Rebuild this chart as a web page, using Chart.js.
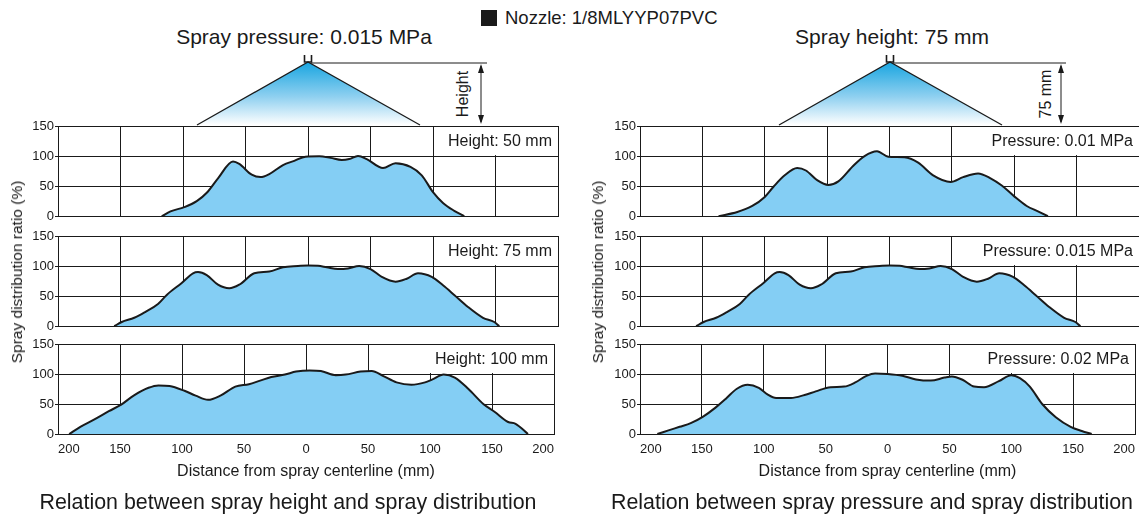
<!DOCTYPE html>
<html lang="en">
<head>
<meta charset="UTF-8">
<title>Spray distribution</title>
<style>
  html, body { margin: 0; padding: 0; background: #fff; overflow: hidden; }
  body { width: 1139px; height: 514px; position: relative; font-family: "Liberation Sans", Arial, sans-serif; color: #1a1a1a; }
  .txt { position: absolute; white-space: nowrap; transform: translate(-50%, -50%); }
  .cv { position: absolute; }
  #cones { position: absolute; left: 0; top: 0; }
</style>
</head>
<body>
<svg id="cones" width="1139" height="130">
  <defs>
    <linearGradient id="spray" x1="0" y1="0" x2="0" y2="1">
      <stop offset="0" stop-color="#18a5e0"/>
      <stop offset="0.55" stop-color="#8fd0f0"/>
      <stop offset="1" stop-color="#ffffff"/>
    </linearGradient>
  </defs>
  <!-- left: height diagram -->
  <polygon points="308,62 197,125 420,125" fill="url(#spray)"/>
  <polyline points="197,125 308,62 420,125" fill="none" stroke="#1a1a1a" stroke-width="1.3"/>
  <path d="M304.5,55 v7 h7 v-7" fill="none" stroke="#1a1a1a" stroke-width="1.6"/>
  <line x1="311" y1="63" x2="487" y2="63" stroke="#1a1a1a" stroke-width="1"/>
  <line x1="481" y1="66" x2="481" y2="122" stroke="#1a1a1a" stroke-width="1"/>
  <polygon points="481,64 478,73 484,73" fill="#1a1a1a"/>
  <polygon points="481,124 478,115 484,115" fill="#1a1a1a"/>
  <text x="0" y="0" transform="translate(468,94) rotate(-90)" text-anchor="middle" font-size="16" fill="#1a1a1a" font-family="Liberation Sans, Arial, sans-serif">Height</text>
  <!-- right: 75 mm diagram -->
  <polygon points="890,62 779,125 1002,125" fill="url(#spray)"/>
  <polyline points="779,125 890,62 1002,125" fill="none" stroke="#1a1a1a" stroke-width="1.3"/>
  <path d="M886.5,55 v7 h7 v-7" fill="none" stroke="#1a1a1a" stroke-width="1.6"/>
  <line x1="893" y1="63" x2="1066" y2="63" stroke="#1a1a1a" stroke-width="1"/>
  <line x1="1061" y1="66" x2="1061" y2="122" stroke="#1a1a1a" stroke-width="1"/>
  <polygon points="1061,64 1058,73 1064,73" fill="#1a1a1a"/>
  <polygon points="1061,124 1058,115 1064,115" fill="#1a1a1a"/>
  <text x="0" y="0" transform="translate(1051,94) rotate(-90)" text-anchor="middle" font-size="16" fill="#1a1a1a" font-family="Liberation Sans, Arial, sans-serif">75 mm</text>
</svg>

<div style="position:absolute;left:481px;top:10px;width:16px;height:16px;background:#1a1a1a"></div>
<div class="txt" style="left:505px;top:18px;transform:translate(0,-50%);font-size:18.5px">Nozzle: 1/8MLYYP07PVC</div>
<div class="txt" style="left:304px;top:37px;font-size:21px">Spray pressure: 0.015 MPa</div>
<div class="txt" style="left:892px;top:37px;font-size:21px">Spray height: 75 mm</div>

<canvas class="cv" id="l1" width="562" height="111" style="left:0;top:114px"></canvas>
<canvas class="cv" id="l2" width="562" height="111" style="left:0;top:224px"></canvas>
<canvas class="cv" id="l3" width="562" height="152" style="left:0;top:332px"></canvas>
<canvas class="cv" id="r1" width="561" height="111" style="left:582px;top:114px"></canvas>
<canvas class="cv" id="r2" width="561" height="111" style="left:582px;top:224px"></canvas>
<canvas class="cv" id="r3" width="561" height="152" style="left:582px;top:332px"></canvas>

<div class="txt" style="left:17px;top:272px;transform:translate(-50%,-50%) rotate(-90deg);font-size:15.5px">Spray distribution ratio (%)</div>
<div class="txt" style="left:598px;top:272px;transform:translate(-50%,-50%) rotate(-90deg);font-size:15.5px">Spray distribution ratio (%)</div>

<div class="txt" style="left:288px;top:502px;font-size:21.4px">Relation between spray height and spray distribution</div>
<div class="txt" style="left:872px;top:502px;font-size:21.4px">Relation between spray pressure and spray distribution</div>

<script src="https://cdn.jsdelivr.net/npm/chart.js"></script>
<script>
// distance from centerline (mm) and distribution ratio (%)
const h50X = [-117, -110, -99, -89, -81, -72, -60, -55, -45, -38, -31, -20, -11, -2, 9, 18, 27, 33, 40, 47, 60, 70, 82, 91, 100, 108, 117, 125];
const h50Y = [0, 8, 15, 25, 39, 63, 91, 87, 69, 65, 70, 85, 92, 99, 99.5, 97, 93.5, 95, 100, 95, 80, 88, 82, 68, 40, 22, 9, 0];

const h75X = [-155, -149, -139, -130, -120, -113, -101, -92, -88, -81, -72, -63, -55, -43, -31, -20, -8, 0, 8, 15, 24, 32, 41, 50, 59, 70, 79, 88, 99, 108, 117, 128, 140, 149, 153];
const h75Y = [0, 7, 14, 24, 37, 52, 72, 88, 90, 85, 69, 63, 69, 88, 91, 98, 100, 101, 100.5, 98, 95, 96, 100, 95, 82, 74, 79, 88, 82, 68, 52, 32, 14, 7, 0];

const h100X = [-191, -182, -171, -159, -149, -139, -127, -119, -110, -98, -89, -79, -69, -57, -46, -37, -28, -17, -8, 3, 12, 24, 32, 44, 53, 62, 73, 85, 96, 102, 111, 120, 131, 143, 152, 163, 169, 179];
const h100Y = [0, 12, 24, 38, 49, 64, 77, 81, 80, 72, 64, 57, 64, 79, 83, 89, 95, 99, 104, 106, 105, 98, 99, 104, 105, 97, 86, 82, 86, 91, 99, 94, 75, 50, 37, 20, 17, 0];

const p01X = [-137, -122, -110, -100, -93, -84, -74, -67, -58, -49, -41, -29, -20, -10, -1, 12, 23, 35, 49, 59, 71, 81, 90, 100, 110, 119, 127];
const p01Y = [0, 7, 17, 32, 49, 68, 80, 76, 60, 52, 58, 84, 100, 108, 99, 98, 89, 68, 57, 65, 71, 63, 51, 33, 17, 8, 0];

// 0.015 MPa at 75 mm is the same measurement as the middle left chart
const p015X = h75X;
const p015Y = h75Y;

const p02X = [-186, -177, -168, -159, -149, -139, -130, -122, -113, -104, -97, -90, -78, -67, -58, -46, -35, -26, -17, -10, 0, 12, 23, 35, 46, 52, 61, 70, 78, 90, 100, 107, 115, 125, 136, 148, 157, 165];
const p02Y = [0, 6, 12, 18, 29, 44, 60, 75, 82, 77, 66, 60, 60, 65, 71, 78, 79, 86, 97, 101, 100, 97, 91, 89, 94, 96, 90, 79, 78, 88, 98, 93, 79, 50, 28, 12, 5, 0];

const xTicks = [-200, -150, -100, -50, 0, 50, 100, 150, 200];
const yTicks = [0, 50, 100, 150];

Chart.defaults.font.family = '"Liberation Sans", Arial, sans-serif';
Chart.defaults.font.size = 13;
Chart.defaults.color = '#1a1a1a';

const lineColor = '#1a1a1a';

// white box with the condition text in the top right cell
const cornerLabel = {
    id: 'cornerLabel',
    beforeDatasetsDraw(chart, args, opts) {
        const ctx = chart.ctx;
        const a = chart.chartArea;
        const y100 = chart.scales.y.getPixelForValue(100);
        ctx.save();
        ctx.font = '16px "Liberation Sans", Arial, sans-serif';
        const w = ctx.measureText(opts.text).width;
        ctx.fillStyle = '#fff';
        ctx.fillRect(a.right - w - 14, a.top + 1, w + 13, y100 - a.top - 2);
        ctx.fillStyle = lineColor;
        ctx.textAlign = 'right';
        ctx.textBaseline = 'middle';
        ctx.fillText(opts.text, a.right - 6, (a.top + y100) / 2 + 1);
        ctx.restore();
    }
};

function makeChart(id, xs, ys, label, bottom) {
    const points = xs.map((x, i) => ({ x: x, y: ys[i] }));
    new Chart(document.getElementById(id), {
        type: 'line',
        data: {
            datasets: [{
                data: points,
                borderColor: lineColor,
                borderWidth: 2,
                backgroundColor: '#84cef4',
                fill: 'origin',
                pointRadius: 0,
                cubicInterpolationMode: 'monotone'
            }]
        },
        options: {
            responsive: false,
            animation: false,
            events: [],
            layout: { padding: { top: 12, right: 4, bottom: bottom ? 0 : 4, left: 0 } },
            plugins: {
                legend: { display: false },
                tooltip: { enabled: false },
                cornerLabel: { text: label }
            },
            scales: {
                x: {
                    type: 'linear',
                    min: -200,
                    max: 200,
                    afterBuildTicks: s => { s.ticks = xTicks.map(v => ({ value: v })); },
                    afterFit: s => { s.height = bottom ? 50 : 0; },
                    grid: { color: lineColor, lineWidth: 1, drawTicks: false },
                    border: { color: lineColor, width: 1 },
                    ticks: {
                        display: bottom,
                        padding: 8,
                        align: 'inner',
                        maxRotation: 0,
                        callback: v => Math.abs(v)
                    },
                    title: {
                        display: bottom,
                        text: 'Distance from spray centerline (mm)',
                        font: { size: 16 },
                        padding: { top: 0, bottom: 3 }
                    }
                },
                y: {
                    min: 0,
                    max: 150,
                    afterBuildTicks: s => { s.ticks = yTicks.map(v => ({ value: v })); },
                    afterFit: s => { s.width = 58; },
                    grid: { color: lineColor, lineWidth: 1, tickLength: 3 },
                    border: { color: lineColor, width: 1 },
                    ticks: { padding: 1 }
                }
            }
        },
        plugins: [cornerLabel]
    });
}

makeChart('l1', h50X, h50Y, 'Height: 50 mm', false);
makeChart('l2', h75X, h75Y, 'Height: 75 mm', false);
makeChart('l3', h100X, h100Y, 'Height: 100 mm', true);
makeChart('r1', p01X, p01Y, 'Pressure: 0.01 MPa', false);
makeChart('r2', p015X, p015Y, 'Pressure: 0.015 MPa', false);
makeChart('r3', p02X, p02Y, 'Pressure: 0.02 MPa', true);
</script>
</body>
</html>
